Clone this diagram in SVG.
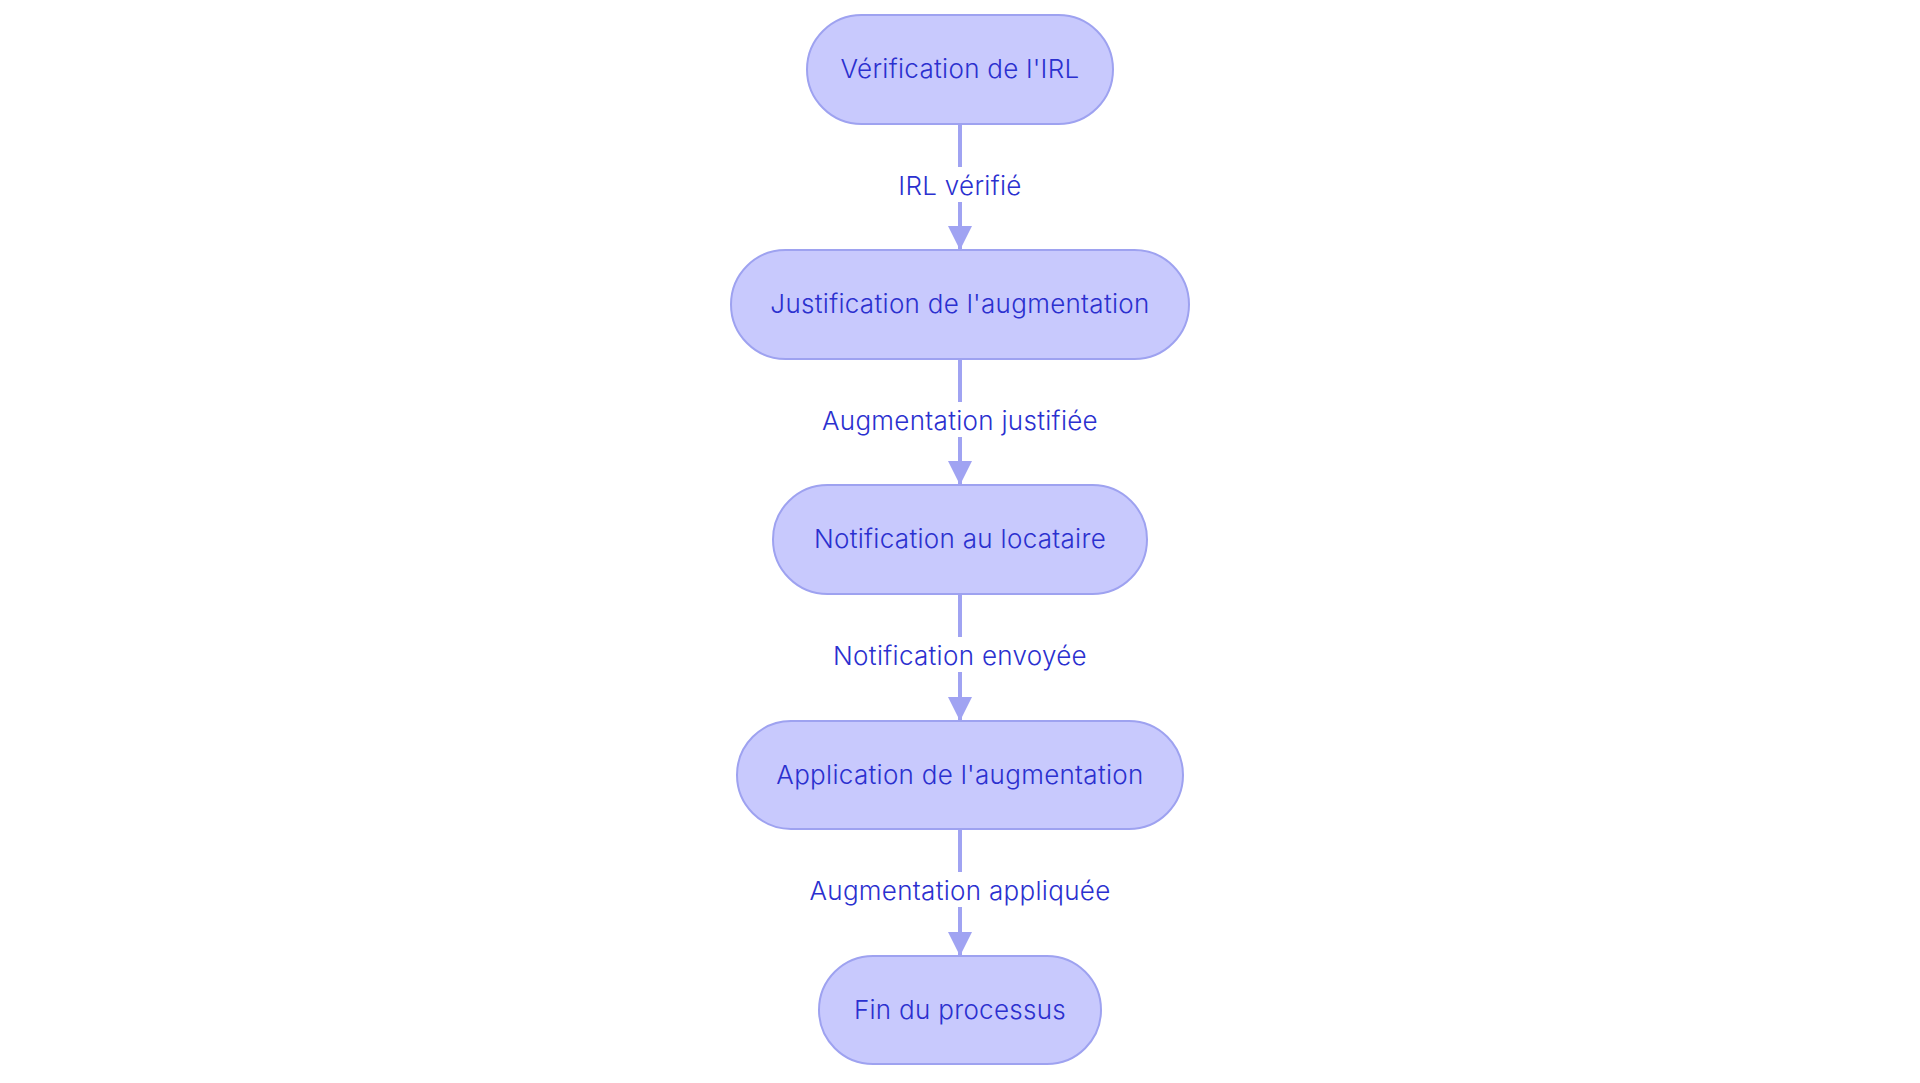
<svg xmlns="http://www.w3.org/2000/svg" width="1920" height="1083" viewBox="0 0 1920 1083">
<style>
.node rect{fill:#c8c9fd;stroke:#9ea2f0;stroke-width:2}
.node text,.lbl text{font-family:Inter,"Noto Sans",sans-serif;font-size:26px;font-weight:300;letter-spacing:0.3px;fill:#2b30cf;text-anchor:middle;dominant-baseline:central}
.edge{stroke:#a0a3f2;stroke-width:4;fill:none}
.lbl rect{fill:#ffffff}
</style>
<defs>
<marker id="ah" markerUnits="userSpaceOnUse" viewBox="0 0 24 24" refX="24" refY="12" markerWidth="24" markerHeight="24" orient="auto">
<path d="M0,0 L24,12 L0,24 z" fill="#a0a3f2"/>
</marker>
</defs>
<rect width="1920" height="1083" fill="#ffffff"/>
<g id="connectors">
<line class="edge" x1="960" y1="124" x2="960" y2="250" marker-end="url(#ah)"/>
<line class="edge" x1="960" y1="359" x2="960" y2="485" marker-end="url(#ah)"/>
<line class="edge" x1="960" y1="594" x2="960" y2="721" marker-end="url(#ah)"/>
<line class="edge" x1="960" y1="829" x2="960" y2="956" marker-end="url(#ah)"/>
<g class="lbl"><rect x="898" y="167" width="124" height="35"/><text x="960" y="185">IRL vérifié</text></g>
<g class="lbl"><rect x="812" y="402" width="296" height="35"/><text x="960" y="420">Augmentation justifiée</text></g>
<g class="lbl"><rect x="825" y="637" width="270" height="35"/><text x="960" y="655">Notification envoyée</text></g>
<g class="lbl"><rect x="802" y="872" width="316" height="35"/><text x="960" y="890">Augmentation appliquée</text></g>
</g>
<g id="n1" class="node"><rect x="807" y="15" width="306" height="109" rx="54.5"/><text x="960" y="68">Vérification de l'IRL</text></g>
<g id="n2" class="node"><rect x="731" y="250" width="458" height="109" rx="54.5"/><text x="960" y="303">Justification de l'augmentation</text></g>
<g id="n3" class="node"><rect x="773" y="485" width="374" height="109" rx="54.5"/><text x="960" y="538">Notification au locataire</text></g>
<g id="n4" class="node"><rect x="737" y="721" width="446" height="108" rx="54"/><text x="960" y="774">Application de l'augmentation</text></g>
<g id="n5" class="node"><rect x="819" y="956" width="282" height="108" rx="54"/><text x="960" y="1009">Fin du processus</text></g>
</svg>
